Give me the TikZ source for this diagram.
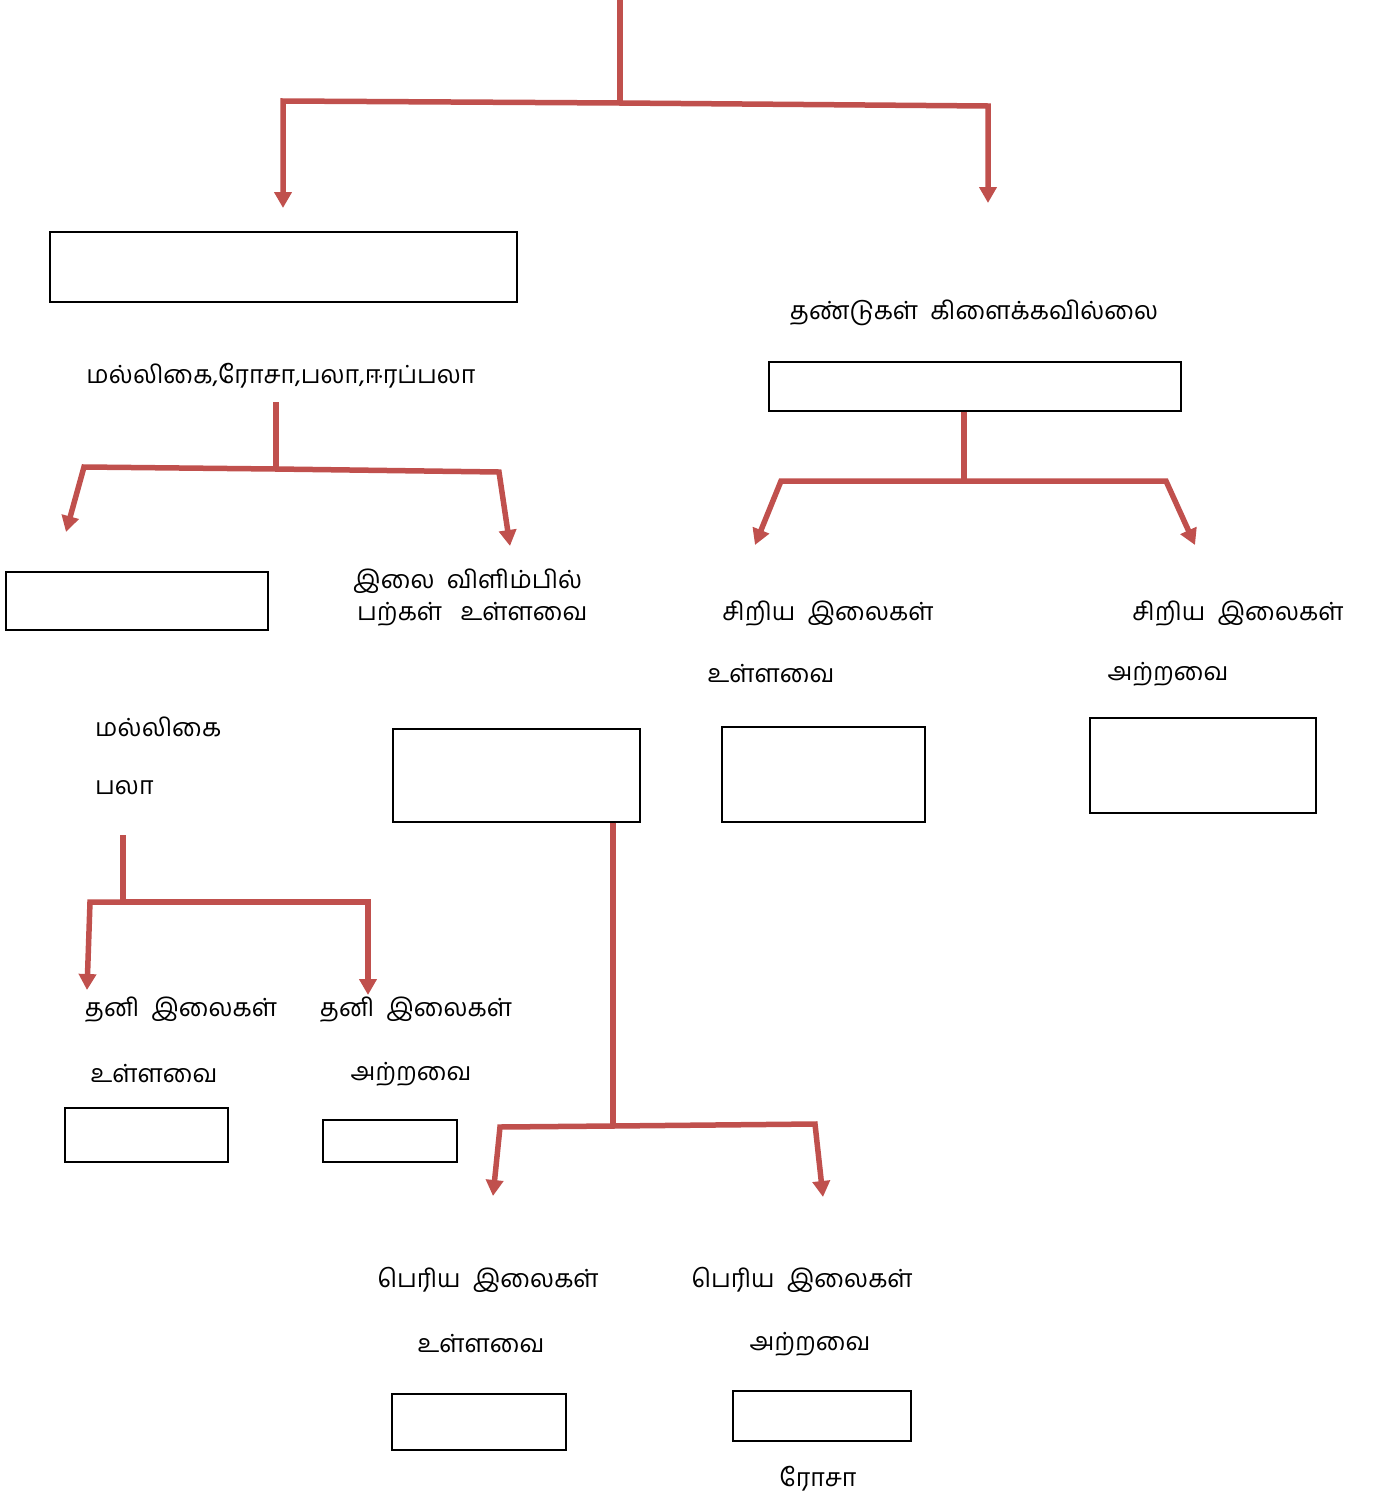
\documentclass[tikz,border=0pt]{standalone}
\usepackage{fontspec}
\newfontfamily\tamilfont[Script=Tamil]{Hind Madurai}
\usetikzlibrary{arrows.meta, positioning}
\definecolor{branchred}{RGB}{192,80,77}

\begin{document}
\begin{tikzpicture}[
    x=1pt, y=-1pt,
    box/.style={rectangle, draw, line width=1.3pt, inner sep=0pt},
    leaftext/.style={font=\tamilfont\fontsize{25}{32}\selectfont, inner sep=0pt},
    branch/.style={draw=branchred, line width=5.5pt, line join=miter},
    arrow/.style={branch, -{Triangle[length=16pt, width=17pt]}}
]
    \useasboundingbox (0,0) rectangle (1375,1497);

    % Boxes
    \node[box, minimum width=467pt, minimum height=70pt] (b1) at (283.5,267) {};
    \node[box, minimum width=412pt, minimum height=49pt] (b2) at (975,386.5) {};
    \node[box, minimum width=262pt, minimum height=58pt] (b3) at (137,601) {};
    \node[box, minimum width=247pt, minimum height=93pt] (b4) at (516.5,775.5) {};
    \node[box, minimum width=203pt, minimum height=95pt] (b5) at (823.5,774.5) {};
    \node[box, minimum width=226pt, minimum height=95pt] (b6) at (1203,765.5) {};
    \node[box, minimum width=163pt, minimum height=54pt] (b7) at (146.5,1135) {};
    \node[box, minimum width=134pt, minimum height=42pt] (b8) at (390,1141) {};
    \node[box, minimum width=174pt, minimum height=56pt] (b9) at (479,1422) {};
    \node[box, minimum width=178pt, minimum height=50pt] (b10) at (822,1416) {};

    % Texts
    \node[leaftext] (stem) at (974,313) {தண்டுகள்~ கிளைக்கவில்லை};
    \node[leaftext] (group) at (281,376) {மல்லிகை,ரோசா,பலா,ஈரப்பலா};
    \node[leaftext, align=left, anchor=west] (teeth) at (353,598) {இலை~ விளிம்பில்\\ \hspace{4pt}பற்கள்~~ உள்ளவை};
    \node[leaftext] (small1) at (828,614) {சிறிய~ இலைகள்};
    \node[leaftext] (small1b) at (771,674) {உள்ளவை};
    \node[leaftext] (small2) at (1238,614) {சிறிய~ இலைகள்};
    \node[leaftext] (small2b) at (1168,674) {அற்றவை};
    \node[leaftext, anchor=west] (jasmine) at (95,727) {மல்லிகை};
    \node[leaftext, anchor=west] (jack) at (95,788) {பலா};
    \node[leaftext] (single1) at (181,1010) {தனி~ இலைகள்};
    \node[leaftext] (single1b) at (154,1074) {உள்ளவை};
    \node[leaftext] (single2) at (416,1010) {தனி~ இலைகள்};
    \node[leaftext] (single2b) at (411,1074) {அற்றவை};
    \node[leaftext] (big1) at (488,1280) {பெரிய~ இலைகள்};
    \node[leaftext] (big1b) at (481,1344) {உள்ளவை};
    \node[leaftext] (big2) at (802,1280) {பெரிய~ இலைகள்};
    \node[leaftext] (big2b) at (810,1344) {அற்றவை};
    \node[leaftext] (rose) at (818,1479) {ரோசா};

    % Junction points
    \coordinate (root) at (620,0);
    \coordinate (j1) at (620,103);
    \coordinate (j1l) at (283,101);
    \coordinate (j1r) at (988,106);
    \coordinate (a1) at (283,208);
    \coordinate (a2) at (988,203);
    \coordinate (s2) at (276,402);
    \coordinate (j2) at (276,469);
    \coordinate (j2l) at (84,467);
    \coordinate (j2r) at (499,472);
    \coordinate (a3) at (66,532);
    \coordinate (a4) at (510,546);
    \coordinate (j3) at (964,481);
    \coordinate (j3l) at (781,481);
    \coordinate (j3r) at (1166,481);
    \coordinate (a5) at (755,545);
    \coordinate (a6) at (1195,545);
    \coordinate (s4) at (123,835);
    \coordinate (j4) at (123,902);
    \coordinate (j4l) at (90,902);
    \coordinate (j4r) at (368,902);
    \coordinate (a7) at (87,990);
    \coordinate (a8) at (368,995);
    \coordinate (j5) at (613,1126);
    \coordinate (j5l) at (500,1127);
    \coordinate (j5r) at (815,1124);
    \coordinate (a9) at (493,1196);
    \coordinate (a10) at (823,1197);

    % Branches
    \draw[branch] (root) -- (j1);
    \draw[arrow] (j1) -- (j1l) -- (a1);
    \draw[arrow] (j1) -- (j1r) -- (a2);
    \draw[branch] (s2) -- (j2);
    \draw[arrow] (j2) -- (j2l) -- (a3);
    \draw[arrow] (j2) -- (j2r) -- (a4);
    \draw[branch] (b2.south -| j3) -- (j3);
    \draw[arrow] (j3) -- (j3l) -- (a5);
    \draw[arrow] (j3) -- (j3r) -- (a6);
    \draw[branch] (s4) -- (j4);
    \draw[arrow] (j4) -- (j4l) -- (a7);
    \draw[arrow] (j4) -- (j4r) -- (a8);
    \draw[branch] (b4.south -| j5) -- (j5);
    \draw[arrow] (j5) -- (j5l) -- (a9);
    \draw[arrow] (j5) -- (j5r) -- (a10);
\end{tikzpicture}
\end{document}
